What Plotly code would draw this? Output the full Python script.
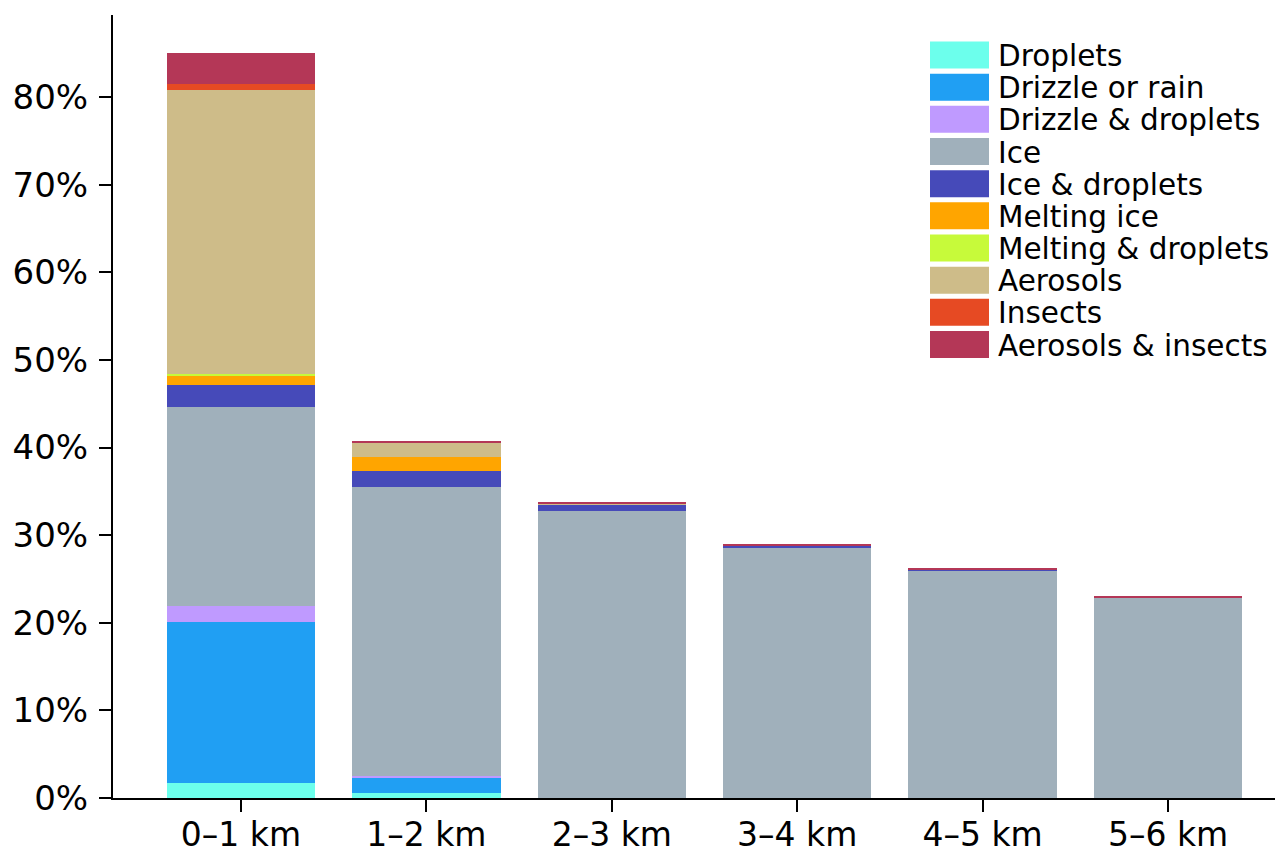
import plotly.graph_objects as go

# Altitude bins
bins = ["0–1 km", "1–2 km", "2–3 km", "3–4 km", "4–5 km", "5–6 km"]

# Share of profiles (%) per classification in each altitude bin
droplets          = [1.7, 0.6, 0.0, 0.0, 0.0, 0.0]
drizzle_rain      = [18.4, 1.7, 0.0, 0.0, 0.0, 0.0]
drizzle_droplets  = [1.8, 0.2, 0.0, 0.0, 0.0, 0.0]
ice               = [22.7, 33.0, 32.75, 28.5, 26.0, 22.9]
ice_droplets      = [2.5, 1.83, 0.8, 0.35, 0.1, 0.0]
melting_ice       = [1.1, 1.6, 0.0, 0.0, 0.0, 0.0]
melting_droplets  = [0.15, 0.0, 0.0, 0.0, 0.0, 0.0]
aerosols          = [32.5, 1.6, 0.03, 0.0, 0.0, 0.0]
insects           = [0.6, 0.05, 0.0, 0.0, 0.0, 0.0]
aerosols_insects  = [3.6, 0.12, 0.2, 0.13, 0.15, 0.13]

labels = ["Droplets", "Drizzle or rain", "Drizzle & droplets", "Ice",
          "Ice & droplets", "Melting ice", "Melting & droplets", "Aerosols",
          "Insects", "Aerosols & insects"]
series = [droplets, drizzle_rain, drizzle_droplets, ice, ice_droplets,
          melting_ice, melting_droplets, aerosols, insects, aerosols_insects]
colors = ["#6CFFEC", "#209FF3", "#BF9AFF", "#A0B0BB", "#464AB9",
          "#FFA500", "#C7FA3A", "#CEBC89", "#E64A23", "#B43757"]

y_ticks = [0, 10, 20, 30, 40, 50, 60, 70, 80]
y_tick_text = [f"{v}%" for v in y_ticks]

FONT = "DejaVu Sans"
W, H = 1276, 855
L, R, T, B = 113, 1, 15, 57

fig = go.Figure()
for name, vals, col in zip(labels, series, colors):
    fig.add_trace(go.Bar(
        x=bins, y=vals, name=name, width=0.8,
        marker=dict(color=col, line=dict(width=0)),
        showlegend=False,
    ))

# Legend drawn as colour swatches with text, placed in paper coordinates
pw, ph = W - L - R, H - T - B
def px_x(x):
    return (x - L) / pw
def px_y(y):
    return 1 - (y - T) / ph

shapes, annotations = [], []
row0, pitch = 55.0, 32.17
for i, (name, col) in enumerate(zip(labels, colors)):
    cy = row0 + i * pitch
    shapes.append(dict(type="rect", xref="paper", yref="paper",
                       x0=px_x(930), x1=px_x(989),
                       y0=px_y(cy + 13.5), y1=px_y(cy - 13.5),
                       fillcolor=col, line=dict(width=0)))
    annotations.append(dict(xref="paper", yref="paper", x=px_x(996),
                            y=px_y(cy + 1), xanchor="left", yanchor="middle",
                            text=name, showarrow=False,
                            font=dict(family=FONT, size=29.5, color="black")))

fig.update_layout(
    width=W, height=H,
    margin=dict(l=L, r=R, t=T, b=B, pad=0),
    barmode="stack", bargap=0.2,
    plot_bgcolor="white", paper_bgcolor="white",
    font=dict(family=FONT, size=34, color="black"),
    shapes=shapes, annotations=annotations,
    showlegend=False,
)
fig.update_xaxes(
    range=[-0.69, 5.577], showgrid=False, zeroline=False, automargin=False,
    showline=True, linecolor="black", linewidth=2,
    ticks="outside", ticklen=12, tickwidth=2, tickcolor="black",
    ticklabelstandoff=-6,
    tickfont=dict(family=FONT, size=33),
)
fig.update_yaxes(
    range=[0, 89.36], showgrid=False, zeroline=False, automargin=False,
    showline=True, linecolor="black", linewidth=2,
    ticks="outside", ticklen=12, tickwidth=2, tickcolor="black",
    ticklabelstandoff=4,
    tickmode="array", tickvals=y_ticks, ticktext=y_tick_text,
    tickfont=dict(family=FONT, size=34),
)

fig.write_html("out.html")
